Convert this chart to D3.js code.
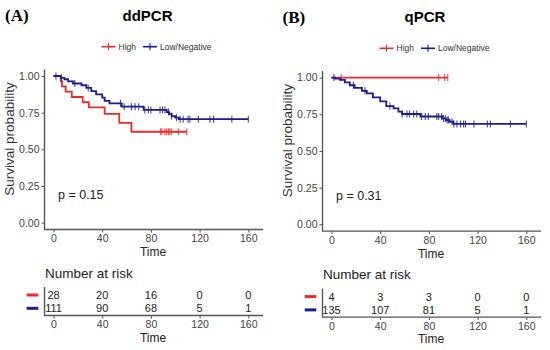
<!DOCTYPE html>
<html>
<head>
<meta charset="utf-8">
<script src="https://cdn.jsdelivr.net/npm/d3@7"></script>
<style>
  body { margin: 0; background: #fff; }
  svg text { font-family: "Liberation Sans", Arial, sans-serif; }
</style>
</head>
<body>
<svg id="chart" width="550" height="350"></svg>
<script>
// ---- data ----
var timeTicks = [0, 40, 80, 120, 160];
var survTicks = [0, 0.25, 0.5, 0.75, 1];
var groupNames = ['High', 'Low/Negative'];

// (A) ddPCR
var ddHighTimes = [6, 7, 10, 15, 24, 29, 42, 54, 64];
var ddHighSurv = [0.964, 0.929, 0.893, 0.857, 0.821, 0.786, 0.742, 0.68, 0.62];
var ddHighCensor = [88, 89, 91.5, 93, 94.5, 95.5, 97, 102.5, 109.5];
var ddLowTimes = [6, 9, 12, 16, 23, 27, 31, 35, 40, 42, 46, 56, 74, 93, 95, 97, 100, 103];
var ddLowSurv = [0.987, 0.978, 0.964, 0.949, 0.937, 0.919, 0.897, 0.875, 0.852, 0.83, 0.814, 0.791, 0.769, 0.754, 0.74, 0.727, 0.716, 0.706];
var ddLowCensor = [2, 6.5, 17.5, 28.5, 55, 58, 64, 67, 70, 75, 78, 80, 87.5, 89.5, 91.5, 94.5, 97, 101, 104, 106.5, 110.5, 112, 119, 128.5, 131.5, 146.5, 160];
var ddRiskHigh = [28, 20, 16, 0, 0];
var ddRiskLow = [111, 90, 68, 5, 1];

// (B) qPCR
var qHighTimes = [];
var qHighSurv = [];
var qHighCensor = [8, 88, 93, 95.5];
var qLowTimes = [3, 7, 11, 15, 19, 25, 29, 34, 40, 45, 51, 55, 58, 73, 91, 94, 97, 100];
var qLowSurv = [0.993, 0.984, 0.968, 0.948, 0.93, 0.91, 0.893, 0.865, 0.838, 0.805, 0.79, 0.768, 0.752, 0.735, 0.722, 0.711, 0.699, 0.684];
var qLowCensor = [2, 18, 27.5, 48, 58, 62, 64, 67.5, 70, 74, 77, 79.5, 86.5, 88, 90.5, 92, 93.5, 95, 96, 99, 100.5, 103, 106, 108.5, 110, 117, 128, 130.5, 147, 160];
var qRiskHigh = [4, 3, 3, 0, 0];
var qRiskLow = [135, 107, 81, 5, 1];

var colors = ['#ec2b2b', '#1d1d8e'];
var axisGray = '#555';
var tickGray = '#444';

var svg = d3.select('#chart');

// step value of a KM curve at time t
function survAt(times, surv, t) {
    var s = 1;
    for (var i = 0; i < times.length; i++) {
        if (times[i] <= t) s = surv[i];
    }
    return s;
}

function styleAxis(a, size) {
    a.select('.domain').attr('stroke', axisGray).attr('stroke-width', 1.4);
    a.selectAll('.tick line').attr('stroke', axisGray);
    a.selectAll('.tick text').attr('fill', tickGray)
        .style('font-size', size).style('font-family', '"Liberation Sans", Arial, sans-serif');
}

function drawPanel(p) {
    var g = svg.append('g').attr('transform', 'translate(' + p.dx + ',' + p.dy + ')');

    var x = d3.scaleLinear().domain([0, 160]).range([53.5, 248.3]);
    var y = d3.scaleLinear().domain([0, 1]).range([222.7, 76]);

    // panel letter + title
    g.append('text').attr('x', p.letterX).attr('y', 21)
        .style('font-family', '"Liberation Serif", serif').style('font-weight', 'bold')
        .style('font-size', '17px').text(p.letter);
    g.append('text').attr('x', p.titleX).attr('y', 20.5).attr('text-anchor', 'middle')
        .style('font-weight', 'bold').style('font-size', '15px').text(p.title);

    // legend
    var legX = [101.5, 143];
    groupNames.forEach(function(name, i) {
        var lx = legX[i];
        g.append('line').attr('x1', lx).attr('x2', lx + 14).attr('y1', 46.7).attr('y2', 46.7)
            .attr('stroke', colors[i]).attr('stroke-width', 1.6);
        g.append('line').attr('x1', lx + 7).attr('x2', lx + 7).attr('y1', 43.2).attr('y2', 50.2)
            .attr('stroke', colors[i]).attr('stroke-width', 1.1);
        g.append('text').attr('x', lx + 17).attr('y', 49.6)
            .style('font-size', '8.5px').attr('fill', '#333').text(name);
    });

    // axes
    var xAxis = g.append('g').attr('transform', 'translate(0,229.5)')
        .call(d3.axisBottom(x).tickValues(timeTicks).tickSize(3).tickPadding(2));
    xAxis.select('.domain').attr('d', 'M44,0H263');
    var yAxis = g.append('g').attr('transform', 'translate(44.5,0)')
        .call(d3.axisLeft(y).tickValues(survTicks).tickFormat(d3.format('.2f')).tickSize(3).tickPadding(2));
    yAxis.select('.domain').attr('d', 'M0,69.5V229.5');
    styleAxis(xAxis, '10.5px');
    styleAxis(yAxis, '10.5px');

    g.append('text').attr('x', 153).attr('y', 256).attr('text-anchor', 'middle')
        .style('font-size', '12px').attr('fill', '#222').text('Time');
    g.append('text').attr('transform', 'translate(14,139) rotate(-90)').attr('text-anchor', 'middle')
        .style('font-size', '13.5px').attr('fill', '#333').text('Survival probability');

    // curves
    var line = d3.line().x(function(d) { return x(d[0]); }).y(function(d) { return y(d[1]); })
        .curve(d3.curveStepAfter);
    p.groups.forEach(function(gr, i) {
        var pts = [[0, 1]];
        gr.times.forEach(function(t, j) { pts.push([t, gr.surv[j]]); });
        var end = d3.max(gr.censor);
        pts.push([end, survAt(gr.times, gr.surv, end)]);
        g.append('path').datum(pts).attr('d', line)
            .attr('fill', 'none').attr('stroke', colors[i]).attr('stroke-width', 1.8);
        g.selectAll('.cens' + i).data(gr.censor).enter().append('line')
            .attr('class', 'cens' + i)
            .attr('x1', function(d) { return x(d); })
            .attr('x2', function(d) { return x(d); })
            .attr('y1', function(d) { return y(survAt(gr.times, gr.surv, d)) - 3.5; })
            .attr('y2', function(d) { return y(survAt(gr.times, gr.surv, d)) + 3.5; })
            .attr('stroke', colors[i]).attr('stroke-width', 1.1).attr('opacity', 0.8);
    });

    // p value
    g.append('text').attr('x', 58).attr('y', 198.5)
        .style('font-size', '12.5px').attr('fill', '#222').text(p.pval);

    // risk table
    g.append('text').attr('x', 45).attr('y', 277.5)
        .style('font-size', '13.5px').attr('fill', '#222').text('Number at risk');
    var rowY = [295, 308.3];
    p.risk.forEach(function(row, i) {
        g.append('line').attr('x1', 26.7).attr('x2', 38.3).attr('y1', rowY[i]).attr('y2', rowY[i])
            .attr('stroke', colors[i]).attr('stroke-width', 3);
        g.selectAll('.risk' + i).data(row).enter().append('text')
            .attr('class', 'risk' + i)
            .attr('x', function(d, j) { return x(timeTicks[j]); })
            .attr('y', rowY[i] + 4)
            .attr('text-anchor', 'middle')
            .style('font-size', '11px').attr('fill', '#222')
            .text(function(d) { return d; });
    });
    var rAxis = g.append('g').attr('transform', 'translate(0,315.5)')
        .call(d3.axisBottom(x).tickValues(timeTicks).tickSize(3).tickPadding(2));
    rAxis.select('.domain').attr('d', 'M44,0H263');
    styleAxis(rAxis, '10.5px');
    g.append('line').attr('x1', 44.5).attr('x2', 44.5).attr('y1', 287).attr('y2', 316)
        .attr('stroke', axisGray).attr('stroke-width', 1.4);
    g.append('text').attr('x', 153).attr('y', 341.5).attr('text-anchor', 'middle')
        .style('font-size', '12px').attr('fill', '#222').text('Time');
}

drawPanel({
    dx: 0, dy: 0, letter: '(A)', letterX: 5, title: 'ddPCR', titleX: 147.5, pval: 'p = 0.15',
    groups: [
        {times: ddHighTimes, surv: ddHighSurv, censor: ddHighCensor},
        {times: ddLowTimes, surv: ddLowSurv, censor: ddLowCensor}
    ],
    risk: [ddRiskHigh, ddRiskLow]
});
drawPanel({
    dx: 278, dy: 1.6, letter: '(B)', letterX: 4.5, title: 'qPCR', titleX: 147, pval: 'p = 0.31',
    groups: [
        {times: qHighTimes, surv: qHighSurv, censor: qHighCensor},
        {times: qLowTimes, surv: qLowSurv, censor: qLowCensor}
    ],
    risk: [qRiskHigh, qRiskLow]
});
</script>
</body>
</html>
